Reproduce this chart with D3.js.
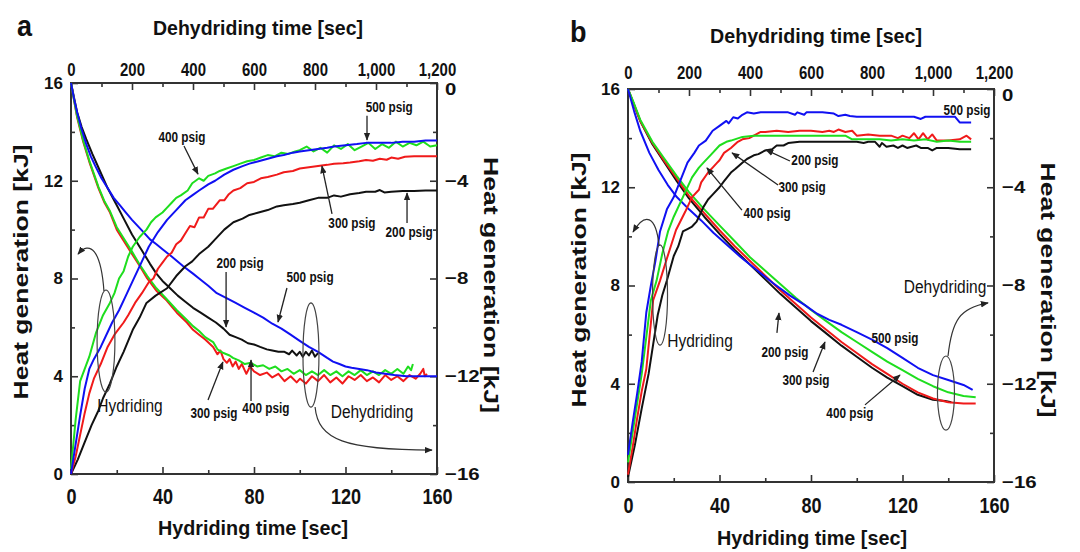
<!DOCTYPE html>
<html>
<head>
<meta charset="utf-8">
<script src="https://cdn.jsdelivr.net/npm/d3@7"></script>
<style>
  body { margin: 0; background: #fff; }
  svg { display: block; }
  text { font-family: "Liberation Sans", Arial, sans-serif; fill: #111; }
</style>
</head>
<body>
<svg id="chart" width="1080" height="552"></svg>
<script>
// ---------- Hydriding heat generation (time s, kJ) – panel a ----------
const hydA200 = [[0,0],[3,0.6],[6,1.3],[9,2.0],[12,2.6],[14,3.1],[17,3.7],[20,4.4],[23,5.0],[27,5.9],[30,6.4],[33,7.0],[37,7.3],[42,7.6],[46,8.1],[50,8.5],[53,8.7],[56,9.0],[60,9.3],[63,9.6],[67,10.0],[71,10.3],[75,10.45],[78,10.6],[82,10.7],[86,10.8],[90,10.95],[93,11.0],[97,11.05],[100,11.1],[104,11.2],[108,11.3],[112,11.3],[115,11.4],[118,11.35],[122,11.45],[126,11.5],[129,11.55],[133,11.55],[135,11.62],[137,11.52],[140,11.55],[145,11.58],[150,11.58],[155,11.6],[160,11.6]];
const hydA300 = [[0,0],[2,0.7],[4,1.6],[6,2.5],[8,3.3],[10,3.9],[13,4.5],[16,5.2],[19,5.7],[23,6.2],[25,6.5],[28,7.0],[31,7.4],[34,7.85],[36,8.0],[38,8.4],[40,8.65],[42,8.9],[44,9.05],[46,9.4],[48,9.55],[50,9.85],[52,10.15],[54,10.1],[56,10.5],[58,10.5],[60,10.85],[62,10.85],[65,11.2],[67,11.2],[69,11.45],[71,11.6],[74,11.7],[77,11.9],[80,11.95],[83,12.1],[86,12.15],[90,12.25],[93,12.35],[97,12.4],[100,12.5],[104,12.55],[108,12.6],[112,12.65],[115,12.7],[119,12.72],[122,12.75],[126,12.8],[129,12.85],[132,12.82],[135,12.9],[138,12.86],[140,12.95],[143,12.9],[146,12.98],[150,13.0],[155,13.0],[160,13.0]];
const hydA400 = [[0,0.2],[2,2.2],[4,3.8],[6,4.3],[8,4.8],[11,5.8],[14,6.5],[17,7.0],[19,7.4],[21,8.0],[23,8.3],[25,8.9],[27,9.3],[30,9.7],[33,10.0],[35,10.3],[37,10.5],[40,10.7],[42,10.9],[44,11.1],[46,11.3],[48,11.4],[51,11.6],[53,11.9],[56,12.1],[58,12.0],[60,12.2],[63,12.3],[65,12.4],[68,12.5],[71,12.6],[74,12.7],[77,12.8],[80,12.85],[83,12.95],[86,13.05],[89,13.0],[92,13.15],[95,13.1],[98,13.2],[100,13.25],[103,13.4],[106,13.2],[109,13.35],[112,13.15],[115,13.45],[118,13.3],[121,13.5],[124,13.25],[127,13.4],[130,13.55],[133,13.3],[136,13.5],[139,13.35],[142,13.6],[145,13.4],[148,13.55],[151,13.45],[154,13.6],[157,13.4],[160,13.45]];
const hydA500 = [[0,0],[2,1.2],[4,2.4],[6,3.5],[8,4.3],[10,4.7],[13,5.2],[16,5.8],[18,6.2],[21,6.7],[24,7.3],[27,7.9],[31,8.7],[34,9.3],[38,9.9],[42,10.4],[46,10.8],[50,11.2],[53,11.4],[56,11.6],[60,11.85],[63,12.0],[67,12.25],[71,12.45],[75,12.6],[78,12.7],[82,12.8],[86,12.9],[90,13.0],[93,13.05],[97,13.15],[100,13.2],[104,13.25],[108,13.3],[112,13.35],[115,13.4],[120,13.45],[125,13.5],[129,13.55],[135,13.55],[140,13.55],[145,13.6],[150,13.6],[155,13.65],[160,13.65]];

// ---------- Dehydriding heat generation (time s, kJ) – panel a ----------
const dehA200 = [[0,0],[10,-0.6],[20,-1.2],[35,-1.8],[50,-2.3],[70,-2.9],[95,-3.6],[120,-4.3],[150,-5.0],[175,-5.6],[200,-6.2],[230,-6.8],[259,-7.4],[280,-7.8],[300,-8.1],[325,-8.4],[350,-8.7],[375,-8.95],[400,-9.2],[425,-9.4],[450,-9.6],[475,-9.8],[500,-10.05],[520,-10.3],[540,-10.4],[560,-10.5],[580,-10.65],[600,-10.7],[620,-10.8],[642,-10.9],[660,-10.95],[680,-11.0],[700,-11.0],[715,-11.1],[725,-10.95],[740,-11.15],[750,-11.0],[760,-11.2],[770,-11.0],[780,-11.15],[790,-10.95],[800,-11.2],[810,-11.05]];
const dehA300 = [[0,0],[10,-0.7],[20,-1.4],[30,-1.9],[40,-2.4],[62,-3.3],[90,-4.3],[110,-4.9],[128,-5.3],[150,-6.0],[170,-6.4],[200,-7.0],[226,-7.5],[250,-8.0],[280,-8.5],[314,-8.9],[347,-9.4],[380,-9.8],[400,-10.1],[420,-10.3],[440,-10.5],[466,-10.8],[480,-11.1],[490,-10.95],[500,-11.3],[511,-11.45],[520,-11.3],[530,-11.6],[540,-11.4],[550,-11.7],[560,-11.5],[575,-11.9],[587,-11.6],[600,-11.8],[620,-11.95],[642,-11.85],[660,-12.05],[680,-11.9],[700,-12.2],[720,-12.0],[740,-12.25],[751,-12.1],[770,-12.3],[790,-12.0],[810,-12.2],[830,-11.95],[850,-12.25],[870,-12.05],[890,-12.3],[910,-12.0],[930,-12.15],[950,-11.95],[970,-12.2],[990,-12.05],[1010,-12.25],[1030,-11.95],[1050,-12.15],[1070,-12.0],[1090,-12.2],[1110,-11.95],[1130,-12.1],[1145,-11.9],[1155,-11.7],[1160,-12.0],[1167,-11.9]];
const dehA400 = [[0,0],[10,-0.7],[20,-1.35],[30,-1.85],[40,-2.35],[62,-3.25],[90,-4.25],[110,-4.85],[128,-5.25],[150,-5.9],[170,-6.3],[200,-6.9],[226,-7.45],[250,-7.9],[280,-8.4],[314,-8.85],[347,-9.3],[380,-9.7],[400,-9.95],[420,-10.15],[440,-10.4],[466,-10.6],[480,-10.9],[500,-11.05],[520,-11.15],[531,-11.25],[550,-11.35],[570,-11.5],[590,-11.45],[610,-11.6],[630,-11.55],[650,-11.7],[670,-11.6],[690,-11.8],[710,-11.7],[730,-11.9],[750,-11.75],[770,-11.95],[790,-11.8],[810,-11.95],[830,-11.75],[850,-11.95],[870,-11.8],[890,-12.0],[910,-11.8],[930,-11.95],[950,-11.75],[970,-11.95],[990,-11.8],[1010,-11.95],[1030,-11.75],[1050,-11.9],[1070,-11.7],[1090,-11.9],[1105,-11.6],[1115,-11.75],[1121,-11.5]];
const dehA500 = [[0,0],[10,-0.65],[20,-1.2],[35,-1.9],[50,-2.5],[65,-3.0],[80,-3.4],[100,-3.9],[120,-4.3],[140,-4.7],[160,-5.0],[180,-5.3],[200,-5.6],[230,-6.0],[259,-6.4],[280,-6.6],[300,-6.8],[330,-7.1],[368,-7.5],[400,-7.8],[420,-8.0],[450,-8.3],[478,-8.6],[510,-8.8],[540,-9.0],[570,-9.2],[600,-9.4],[630,-9.6],[660,-9.85],[690,-10.05],[720,-10.3],[750,-10.55],[780,-10.8],[810,-11.0],[840,-11.25],[859,-11.4],[880,-11.5],[900,-11.6],[920,-11.65],[945,-11.7],[970,-11.75],[1000,-11.85],[1030,-11.9],[1060,-11.95],[1100,-12.0],[1150,-12.0],[1200,-12.0]];

// ---------- Hydriding heat generation – panel b ----------
const hydB200 = [[0,0.2],[3,1.5],[6,3.0],[9,4.4],[11,5.6],[13,6.8],[15,7.6],[17,8.2],[20,9.2],[22,9.6],[24,10.2],[26,10.3],[28,10.4],[30,10.6],[31,10.8],[33,11.2],[35,11.5],[37,11.7],[40,12.0],[42,12.25],[45,12.6],[47,12.75],[50,13.0],[52,13.15],[55,13.3],[57,13.35],[60,13.5],[63,13.55],[65,13.7],[68,13.7],[70,13.8],[75,13.85],[80,13.85],[85,13.85],[90,13.85],[95,13.85],[100,13.85],[103,13.8],[105,13.85],[108,13.85],[110,13.65],[111,13.8],[113,13.65],[116,13.7],[118,13.6],[120,13.7],[122,13.6],[126,13.7],[128,13.6],[131,13.6],[133,13.5],[135,13.6],[140,13.6],[145,13.55],[150,13.55]];
const hydB300 = [[0,0.3],[2,1.4],[4,2.6],[6,3.7],[8,4.6],[11,7.4],[14,8.2],[17,9.1],[21,10.26],[25,11.0],[28,11.6],[31,11.9],[32,12.2],[35,12.6],[37,12.8],[39,13.0],[40,13.1],[42,13.4],[45,13.6],[48,13.85],[50,13.95],[53,14.0],[55,14.1],[58,14.25],[60,14.25],[65,14.3],[70,14.25],[75,14.3],[80,14.3],[85,14.25],[88,14.3],[90,14.25],[92,14.35],[95,14.25],[98,14.3],[100,14.1],[105,14.15],[110,14.1],[115,14.1],[118,14.0],[120,14.1],[123,14.0],[125,14.2],[127,13.95],[129,14.2],[131,13.95],[133,14.15],[135,13.9],[140,13.9],[145,13.95],[148,14.1],[150,13.95]];
const hydB400 = [[0,0.8],[2,2.0],[4,3.2],[6,4.4],[8,5.9],[10,7.4],[12.5,8.2],[15,9.3],[17.5,10.2],[20,10.8],[24,11.6],[28,12.4],[31,12.8],[33,13.0],[36,13.3],[40,13.7],[43,13.85],[45,13.9],[50,14.05],[55,14.1],[60,14.1],[70,14.1],[80,14.1],[90,14.1],[95,14.1],[98,13.95],[105,13.95],[110,13.95],[115,13.9],[120,13.95],[125,13.9],[130,13.95],[135,13.85],[140,13.9],[145,13.85],[150,13.85]];
const hydB500 = [[0,1.1],[2,2.4],[4,3.6],[6,4.9],[8,6.9],[10,8.0],[12,9.0],[14,10.2],[17,11.1],[20,11.6],[23,12.3],[26,13.0],[29,13.4],[31,13.7],[34,13.9],[37,14.3],[40,14.5],[43,14.7],[44,14.6],[46,14.85],[48,14.8],[50,14.95],[52,15.05],[55,15.0],[58,15.05],[60,15.05],[65,15.05],[70,15.05],[73,14.95],[74,15.05],[77,14.95],[78,15.05],[80,15.05],[85,15.05],[90,15.0],[92,14.9],[95,14.95],[97,14.9],[100,14.87],[105,14.87],[110,14.87],[115,14.87],[120,14.87],[125,14.87],[128,14.78],[130,14.87],[136,14.87],[140,14.87],[143,14.87],[145,14.64],[150,14.64]];

// ---------- Dehydriding heat generation – panel b ----------
const dehB200 = [[0,0],[20,-0.65],[40,-1.3],[80,-2.25],[120,-3.0],[160,-3.75],[200,-4.45],[250,-5.2],[300,-5.9],[350,-6.55],[400,-7.15],[450,-7.75],[500,-8.35],[550,-8.9],[600,-9.45],[650,-9.95],[700,-10.45],[750,-10.9],[800,-11.35],[850,-11.75],[900,-12.1],[950,-12.45],[1000,-12.65],[1040,-12.7],[1060,-12.75]];
const dehB300 = [[0,0],[20,-0.65],[40,-1.3],[80,-2.2],[120,-2.95],[160,-3.65],[200,-4.35],[250,-5.05],[300,-5.75],[350,-6.4],[400,-7.0],[450,-7.6],[500,-8.2],[550,-8.75],[600,-9.3],[650,-9.8],[700,-10.3],[750,-10.75],[800,-11.2],[850,-11.6],[900,-12.0],[950,-12.35],[1000,-12.6],[1050,-12.75],[1100,-12.8],[1140,-12.8]];
const dehB400 = [[0,0],[20,-0.6],[40,-1.25],[80,-2.15],[120,-2.85],[160,-3.55],[200,-4.2],[250,-4.9],[300,-5.55],[350,-6.2],[400,-6.85],[450,-7.4],[500,-7.95],[550,-8.5],[600,-9.0],[650,-9.45],[700,-9.9],[750,-10.3],[800,-10.7],[850,-11.1],[900,-11.45],[950,-11.8],[1000,-12.1],[1050,-12.35],[1100,-12.5],[1140,-12.55]];
const dehB500 = [[0,0],[20,-0.9],[40,-1.7],[70,-2.6],[100,-3.3],[130,-3.9],[160,-4.4],[200,-4.9],[240,-5.35],[280,-5.85],[325,-6.35],[370,-6.85],[420,-7.35],[475,-7.9],[530,-8.4],[580,-8.8],[620,-9.15],[660,-9.4],[700,-9.6],[750,-9.9],[800,-10.2],[850,-10.55],[900,-10.95],[950,-11.35],[1000,-11.65],[1050,-11.85],[1100,-12.05],[1130,-12.25]];

// ---------- Axis ticks ----------
const hydTicks = [0, 40, 80, 120, 160];
const hydMinor = [20, 60, 100, 140];
const dehTicks = [0, 200, 400, 600, 800, 1000, 1200];
const dehMinor = [100, 300, 500, 700, 900, 1100];
const heatTicks = [0, 4, 8, 12, 16];
const heatMinor = [2, 6, 10, 14];
const heatNegTicks = [-16, -12, -8, -4, 0];
const heatNegMinor = [-14, -10, -6, -2];

const pressures = ["200 psig", "300 psig", "400 psig", "500 psig"];
const lineColors = ["#111111", "#f01a1a", "#1ede1e", "#1010f2"];

const svg = d3.select("#chart");
const defs = svg.append("defs");
defs.append("marker")
  .attr("id", "head").attr("viewBox", "0 0 10 10")
  .attr("refX", 9).attr("refY", 5)
  .attr("markerWidth", 8).attr("markerHeight", 8)
  .attr("markerUnits", "userSpaceOnUse")
  .attr("orient", "auto")
  .append("path").attr("d", "M0,1 L10,5 L0,9 Z").attr("fill", "#222");

// narrow the drawn text horizontally by a factor
function squeeze(sel, ratio) {
  sel.each(function () {
    const w = this.getComputedTextLength();
    if (w > 0) d3.select(this).attr("textLength", w * ratio).attr("lengthAdjust", "spacingAndGlyphs");
  });
}
function fitTo(sel, len) {
  sel.attr("textLength", len).attr("lengthAdjust", "spacingAndGlyphs");
}

function drawPanel(p) {
  const g = svg.append("g");
  const x = d3.scaleLinear().domain([0, 160]).range([p.left, p.right]);
  const xT = d3.scaleLinear().domain([0, 1200]).range([p.left, p.right]);
  const y = d3.scaleLinear().domain([0, 16]).range([p.bottom, p.top]);
  const yR = d3.scaleLinear().domain([-16, 0]).range([p.bottom, p.top]);

  // axes with inward ticks
  const axes = [
    { a: d3.axisBottom(x).tickValues(hydTicks).tickPadding(p.padB), m: d3.axisBottom(x).tickValues(hydMinor), tr: `translate(0,${p.bottom})`, fs: 22, r: 0.82 },
    { a: d3.axisTop(xT).tickValues(dehTicks).tickFormat(d3.format(",")).tickPadding(p.padT), m: d3.axisTop(xT).tickValues(dehMinor), tr: `translate(0,${p.top})`, fs: 18, r: 0.83 },
    { a: d3.axisLeft(y).tickValues(heatTicks).tickPadding(8), m: d3.axisLeft(y).tickValues(heatMinor), tr: `translate(${p.left},0)`, fs: 17, r: 1.0 },
    { a: d3.axisRight(yR).tickValues(heatNegTicks).tickPadding(8), m: d3.axisRight(yR).tickValues(heatNegMinor), tr: `translate(${p.right},0)`, fs: 17, r: 1.2, right: true }
  ];
  axes.forEach(ax => {
    const ga = g.append("g").attr("transform", ax.tr)
      .call(ax.a.tickSizeInner(-7).tickSizeOuter(0));
    ga.select(".domain").remove();
    ga.selectAll("line").attr("stroke", "#333").attr("stroke-width", 1.6);
    const t = ga.selectAll("text").attr("font-size", ax.fs).attr("font-weight", "bold")
      .attr("font-family", "Liberation Sans, Arial, sans-serif").attr("fill", "#111");
    squeeze(t, ax.r);
    // the top-right "0" sits just under the top tick row
    if (ax.right) t.filter(d => d === 0).attr("dy", "0.66em");
    const gm = g.append("g").attr("transform", ax.tr)
      .call(ax.m.tickSizeInner(-4).tickSizeOuter(0).tickFormat(""));
    gm.select(".domain").remove();
    gm.selectAll("line").attr("stroke", "#333").attr("stroke-width", 1.6);
  });

  // frame
  g.append("rect").attr("x", p.left).attr("y", p.top)
    .attr("width", p.right - p.left).attr("height", p.bottom - p.top)
    .attr("fill", "none").attr("stroke", "#333").attr("stroke-width", 2);

  // curves
  const lineH = d3.line().x(d => x(d[0])).y(d => y(d[1]));
  const lineD = d3.line().x(d => xT(d[0])).y(d => yR(d[1]));
  p.deh.forEach((s, i) => g.append("path").attr("d", lineD(s)).attr("fill", "none")
    .attr("stroke", lineColors[i]).attr("stroke-width", 2).attr("stroke-linejoin", "round"));
  p.hyd.forEach((s, i) => g.append("path").attr("d", lineH(s)).attr("fill", "none")
    .attr("stroke", lineColors[i]).attr("stroke-width", 2).attr("stroke-linejoin", "round"));

  // group ellipses and pointer curves
  p.ellipses.forEach(e => g.append("ellipse")
    .attr("cx", x(e.t)).attr("cy", y(e.q))
    .attr("rx", x(e.t + e.dt) - x(e.t)).attr("ry", y(e.q - e.dq) - y(e.q))
    .attr("fill", "none").attr("stroke", "#444").attr("stroke-width", 1.2));
  p.bends.forEach(c => {
    const pts = c.map(d => [x(d[0]), y(d[1])]);
    g.append("path")
      .attr("d", `M${pts[0]} C${pts[1]} ${pts[2]} ${pts[3]}`)
      .attr("fill", "none").attr("stroke", "#333").attr("stroke-width", 1.2)
      .attr("marker-end", "url(#head)");
  });

  // pressure pointers
  p.pointers.forEach(a => g.append("line")
    .attr("x1", x(a[0])).attr("y1", y(a[1])).attr("x2", x(a[2])).attr("y2", y(a[3]))
    .attr("stroke", "#222").attr("stroke-width", 1.3).attr("marker-end", "url(#head)"));

  // labels
  p.notes.forEach(n => {
    const t = g.append("text").attr("x", x(n.t)).attr("y", y(n.q))
      .attr("text-anchor", "middle").text(n.text)
      .attr("font-size", n.big ? 18 : 14).attr("font-weight", n.big ? "normal" : "bold")
      .attr("fill", n.big ? "#333" : "#111");
    squeeze(t, n.big ? 0.86 : 0.84);
  });

  // titles
  const tt = g.append("text").attr("x", p.topTitle[0]).attr("y", p.topTitle[1])
    .attr("text-anchor", "middle").attr("font-size", 21).attr("font-weight", "bold")
    .text("Dehydriding time [sec]");
  fitTo(tt, p.topTitle[2]);
  const bt = g.append("text").attr("x", p.bottomTitle[0]).attr("y", p.bottomTitle[1])
    .attr("text-anchor", "middle").attr("font-size", 21).attr("font-weight", "bold")
    .text("Hydriding time [sec]");
  fitTo(bt, p.bottomTitle[2]);
  const lt = g.append("text")
    .attr("transform", `translate(${p.leftTitle[0]},${p.leftTitle[1]}) rotate(-90)`)
    .attr("text-anchor", "middle").attr("font-size", 20).attr("font-weight", "bold")
    .text("Heat generation [kJ]");
  fitTo(lt, p.leftTitle[2]);
  const rt = g.append("text")
    .attr("transform", `translate(${p.rightTitle[0]},${p.rightTitle[1]}) rotate(90)`)
    .attr("text-anchor", "middle").attr("font-size", 20).attr("font-weight", "bold")
    .text("Heat generation [kJ]");
  fitTo(rt, p.rightTitle[2]);

  const lt2 = g.append("text").attr("x", p.letter[0]).attr("y", p.letter[1])
    .attr("font-size", 30).attr("font-weight", "bold").text(p.letter[2]);
  squeeze(lt2, 0.9);
}

drawPanel({
  left: 71, right: 437, top: 83, bottom: 474, padB: 14, padT: 7,
  hyd: [hydA200, hydA300, hydA400, hydA500],
  deh: [dehA200, dehA300, dehA400, dehA500],
  topTitle: [258, 35, 210], bottomTitle: [253, 535, 190],
  leftTitle: [28, 272, 255], rightTitle: [484, 285, 256],
  letter: [17, 36, "a"],
  notes: [
    { t: 139.1, q: 14.82, text: pressures[3] },
    { t: 48.5, q: 13.58, text: pressures[2] },
    { t: 122.8, q: 10.07, text: pressures[1] },
    { t: 147.8, q: 9.70, text: pressures[0] },
    { t: 73.9, q: 8.43, text: pressures[0] },
    { t: 104.5, q: 7.86, text: pressures[3] },
    { t: 62.5, q: 2.29, text: pressures[1] },
    { t: 85.2, q: 2.50, text: pressures[2] },
    { t: 25.8, q: 2.54, text: "Hydriding", big: true },
    { t: 131.6, q: 2.29, text: "Dehydriding", big: true }
  ],
  pointers: [
    [129.4, 14.66, 129.4, 13.67],
    [49.4, 13.42, 55.5, 12.27],
    [114.1, 10.64, 109.7, 12.6],
    [146.9, 10.27, 146.9, 11.5],
    [67.8, 8.27, 67.8, 6.02],
    [94.4, 7.61, 90.5, 6.22],
    [59.9, 3.03, 66.4, 4.58],
    [78.7, 2.99, 78.7, 4.66]
  ],
  ellipses: [
    { t: 15.3, q: 5.44, dt: 3.9, dq: 2.09 },
    { t: 104.9, q: 4.87, dt: 3.5, dq: 2.13 }
  ],
  bends: [
    [[14.4, 7.49], [13.1, 9.17], [8.3, 9.57], [3.06, 9.0]],
    [[106.7, 2.74], [108, 1.39], [119.8, 0.98], [157.8, 0.98]]
  ]
});

drawPanel({
  left: 628, right: 994, top: 89, bottom: 482, padB: 15, padT: 10,
  hyd: [hydB200, hydB300, hydB400, hydB500],
  deh: [dehB200, dehB300, dehB400, dehB500],
  topTitle: [816, 43, 212], bottomTitle: [812, 545, 190],
  leftTitle: [586, 280, 255], rightTitle: [1041, 290, 255],
  letter: [570, 42, "b"],
  notes: [
    { t: 148.2, q: 14.94, text: pressures[3] },
    { t: 81.7, q: 12.91, text: pressures[0] },
    { t: 76.1, q: 11.81, text: pressures[1] },
    { t: 60.8, q: 10.75, text: pressures[2] },
    { t: 31.5, q: 5.50, text: "Hydriding", big: true },
    { t: 138.6, q: 7.70, text: "Dehydriding", big: true },
    { t: 68.6, q: 5.09, text: pressures[0] },
    { t: 77.8, q: 3.95, text: pressures[1] },
    { t: 97.0, q: 2.61, text: pressures[2] },
    { t: 116.7, q: 5.66, text: pressures[3] }
  ],
  pointers: [
    [70.8, 13.07, 60.3, 13.52],
    [65.6, 12.09, 45.5, 13.4],
    [49.8, 11.07, 34.5, 12.79],
    [65.1, 6.07, 66.0, 6.88],
    [80.9, 4.48, 86.1, 5.70],
    [103.6, 3.14, 118.9, 4.36]
  ],
  ellipses: [
    { t: 14.0, q: 7.61, dt: 3.28, dq: 2.04 },
    { t: 139.0, q: 3.62, dt: 3.72, dq: 1.51 }
  ],
  bends: [
    [[13.6, 9.61], [12.2, 10.87], [7.4, 10.99], [2.2, 10.18]],
    [[139.9, 5.13], [141.6, 6.6], [145.1, 7.08], [157.4, 7.29]]
  ]
});
</script>
</body>
</html>
